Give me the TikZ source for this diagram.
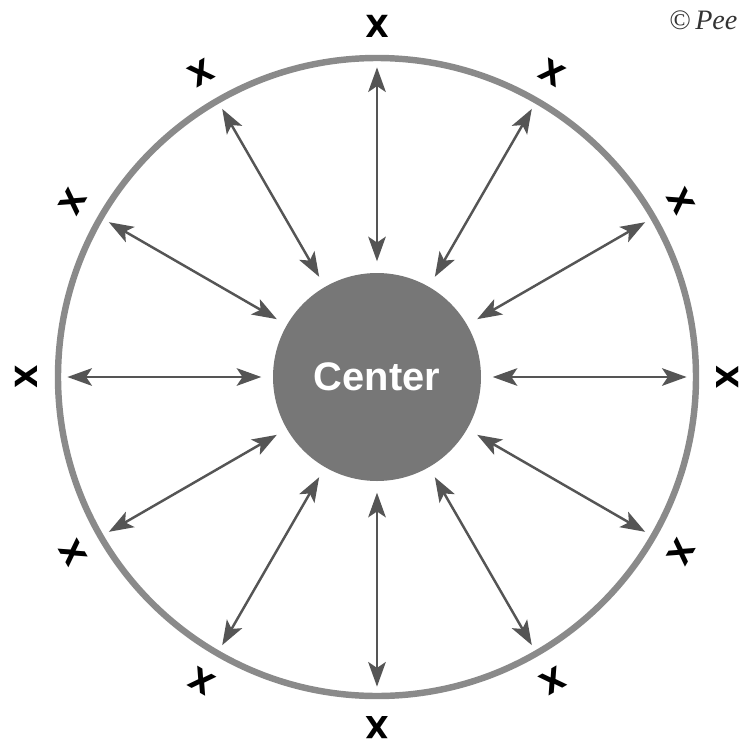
\documentclass[tikz,border=0pt]{standalone}
\usepackage{fontspec}
\setmainfont{Liberation Serif}
\newfontfamily\labelfont{Liberation Sans}
\newfontfamily\markfont{DejaVu Sans}
\usetikzlibrary{positioning, shapes.geometric, arrows.meta, calc}
\usepackage{xcolor}
\definecolor{rimgray}{HTML}{8A8A8A}
\definecolor{coregray}{HTML}{777777}
\definecolor{arrowgray}{HTML}{555555}

\begin{document}
\begin{tikzpicture}[x=0.03cm, y=-0.03cm,
    spoke/.style={{Stealth[length=21pt,width=15pt,inset=5pt]}-{Stealth[length=21pt,width=15pt,inset=5pt]}, color=arrowgray, line width=2.1pt, shorten <=10pt, shorten >=8pt},
    xmark/.style={font=\markfont\bfseries\fontsize{26}{26}\selectfont, inner sep=0pt}]
        \useasboundingbox (0,0) rectangle (743,746);
        \clip (0,0) rectangle (743,746);
        \node[circle, draw=rimgray, line width=5.5pt, minimum size=638*0.03cm, inner sep=0pt, outer sep=0pt] (rim) at (377,377) {};
        \node[circle, fill=coregray, minimum size=208*0.03cm, inner sep=0pt, outer sep=0pt, text=white, font=\labelfont\bfseries\fontsize{34}{34}\selectfont] (center) at (377,377) {Center};
        \foreach \a in {0,30,...,330} {
            \draw[spoke] (center.\a) -- (rim.\a);
            \node[xmark, rotate=\a-90] (x\a) at ($(center)+(\a:10.53cm)$) {X};
        }
        \node[anchor=base west, inner sep=0pt, font=\itshape\fontsize{24}{24}\selectfont, text=black!80] (copy) at (669,29) {\textcopyright\,Pee};
      \end{tikzpicture}
\end{document}
